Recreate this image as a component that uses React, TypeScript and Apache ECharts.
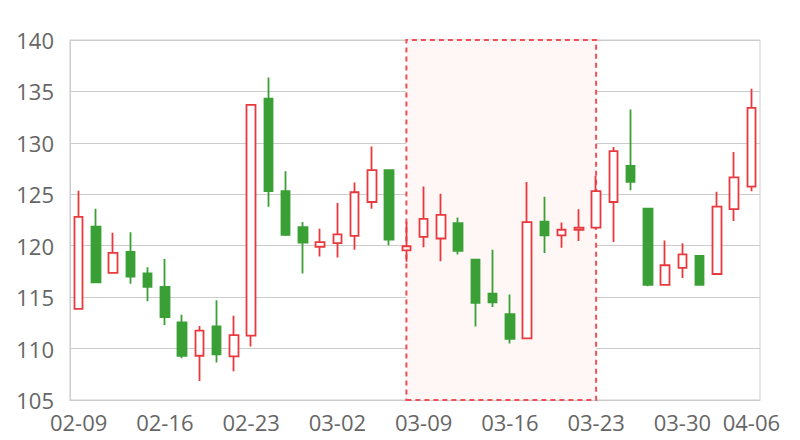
import React, { useEffect, useRef } from "react";
import * as echarts from "echarts";

const dates = [
  "02-09", "02-10", "02-11", "02-12", "02-13",
  "02-16", "02-17", "02-18", "02-19", "02-20",
  "02-23", "02-24", "02-25", "02-26", "02-27",
  "03-02", "03-03", "03-04", "03-05", "03-06",
  "03-09", "03-10", "03-11", "03-12", "03-13",
  "03-16", "03-17", "03-18", "03-19", "03-20",
  "03-23", "03-24", "03-25", "03-26", "03-27",
  "03-30", "03-31", "04-01", "04-02",
  "04-06",
];

const tickLabels = ["02-09", "02-16", "02-23", "03-02", "03-09", "03-16", "03-23", "03-30", "04-06"];

const opens = [
  113.85, 121.85, 117.35, 119.4, 117.3, 116.0, 112.55, 109.3, 112.15, 109.25,
  111.25, 134.3, 125.3, 121.8, 119.9, 120.25, 120.95, 124.25, 127.35, 119.55,
  120.85, 120.7, 122.2, 118.65, 115.35, 113.35, 111.0, 122.35, 121.0, 121.55,
  121.75, 124.25, 127.75, 123.6, 116.2, 117.85, 119.0, 117.25, 123.55, 125.75,
];
const closes = [
  122.8, 116.45, 119.3, 117.0, 116.0, 113.05, 109.3, 111.75, 109.45, 111.3,
  133.7, 125.3, 121.05, 120.3, 120.35, 121.1, 125.2, 127.35, 120.6, 119.95,
  122.6, 123.0, 119.5, 114.45, 114.5, 110.95, 122.3, 121.0, 121.55, 121.75,
  125.3, 129.2, 126.2, 116.2, 118.1, 119.15, 116.2, 123.8, 126.65, 133.4,
];
const lows = [
  113.8, 116.4, 117.35, 116.3, 114.6, 112.3, 109.05, 106.85, 108.65, 107.8,
  110.2, 123.8, 120.95, 117.3, 118.95, 118.85, 119.6, 123.6, 120.05, 118.45,
  119.85, 118.5, 119.15, 112.15, 114.05, 110.5, 111.0, 119.3, 119.8, 120.45,
  121.6, 120.35, 125.4, 116.05, 116.2, 116.85, 116.1, 117.25, 122.4, 125.3,
];
const highs = [
  125.35, 123.6, 121.25, 121.3, 117.9, 118.7, 113.3, 112.2, 114.7, 113.2,
  133.7, 136.35, 127.25, 122.3, 121.65, 124.15, 126.15, 129.65, 127.35, 122.3,
  125.75, 125.05, 122.75, 118.65, 119.6, 115.25, 126.2, 124.75, 122.25, 123.55,
  126.8, 129.6, 133.25, 123.6, 120.5, 120.25, 119.0, 125.25, 129.1, 135.25,
];

const highlightStart = "03-06";
const highlightEnd = "03-23";

export default function App() {
  const ref = useRef<HTMLDivElement>(null);
  useEffect(() => {
    if (!ref.current) return;
    const chart = echarts.init(ref.current, null, { renderer: "svg" });
    const data = dates.map((_, i) => [opens[i], closes[i], lows[i], highs[i]]);
    const red = "#e8393e";
    const green = "#3aa036";
    chart.setOption({
      animation: false,
      grid: {
        left: 62,
        right: 32,
        top: 32,
        bottom: 40,
        show: true,
        borderColor: "#cccccc",
        borderWidth: 1,
      },
      xAxis: {
        type: "category",
        data: dates,
        boundaryGap: true,
        axisLine: { lineStyle: { color: "#cccccc" } },
        axisTick: { show: false },
        splitLine: { show: false },
        axisLabel: {
          interval: (_i: number, v: string) => tickLabels.includes(v),
          color: "#666666",
          fontSize: 22,
          fontFamily: "Open Sans",
          margin: 11,
          hideOverlap: false,
        },
      },
      yAxis: {
        type: "value",
        min: 105,
        max: 140,
        interval: 5,
        axisLine: { show: true, lineStyle: { color: "#cccccc" } },
        axisTick: { show: false },
        splitLine: { lineStyle: { color: "#cccccc" } },
        axisLabel: {
          color: "#666666",
          fontSize: 22,
          fontFamily: "Open Sans",
          margin: 16,
        },
      },
      series: [
        {
          type: "candlestick",
          data,
          barWidth: 9,
          itemStyle: {
            color: "#ffffff",
            color0: green,
            borderColor: red,
            borderColor0: green,
            borderWidth: 1.8,
          },
          markArea: {
            silent: true,
            itemStyle: {
              color: "#fff6f6",
              borderColor: "#ef5055",
              borderWidth: 2,
              borderType: [5, 4],
            },
            data: [[{ xAxis: highlightStart }, { xAxis: highlightEnd }]],
          },
        },
      ],
    });
    return () => chart.dispose();
  }, []);
  return <div ref={ref} style={{ width: 784, height: 432 }} />;
}
